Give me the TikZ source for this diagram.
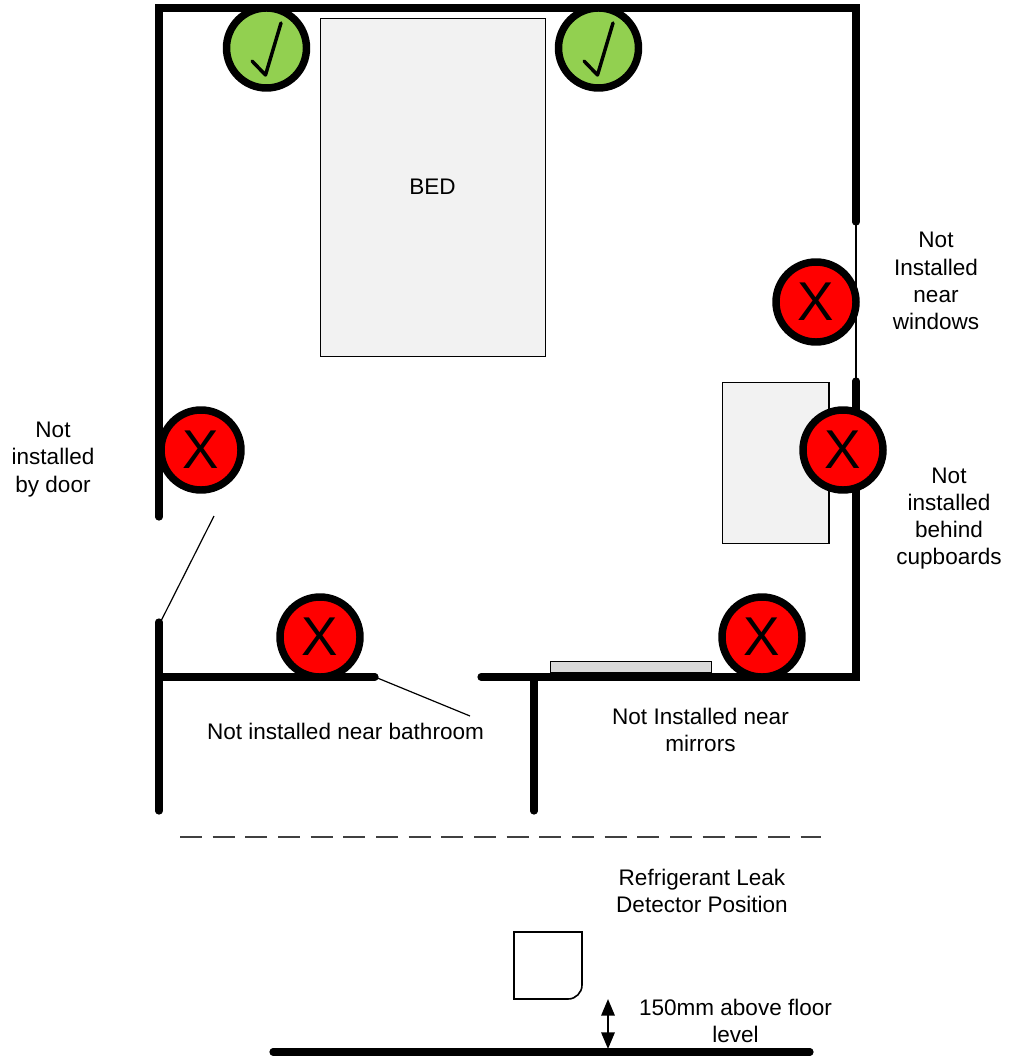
\documentclass[tikz,border=0pt]{standalone}
\usepackage{fontspec}
\setmainfont{Liberation Sans}
\usetikzlibrary{arrows.meta}
\definecolor{okgreen}{HTML}{92D050}
\definecolor{furnfill}{HTML}{F2F2F2}
\definecolor{mirrorfill}{HTML}{D9D9D9}
\tikzset{
  x=0.75pt,y=-0.75pt,
  wall/.style={line width=5.4pt,line cap=round},
  thinline/.style={line width=0.9pt},
  furn/.style={draw=black,line width=0.9pt,fill=furnfill,inner sep=0pt,anchor=north west},
  lbl/.style={font=\fontsize{16.9}{20.4}\selectfont,align=center,inner sep=0pt},
  okmark/.style={circle,draw=black,line width=5.6pt,fill=okgreen,minimum size=60pt,inner sep=0pt},
  badmark/.style={circle,draw=black,line width=5.6pt,fill=red,minimum size=60pt,inner sep=0pt,font=\fontsize{41}{41}\selectfont},
}
\begin{document}
\begin{tikzpicture}
\useasboundingbox (0,0) rectangle (1009,1056);
% corners and wall ends
\coordinate (tl) at (159,8);
\coordinate (tr) at (856,8);
\coordinate (winTop) at (856,222);
\coordinate (winBot) at (856,381);
\coordinate (br) at (856,677);
\coordinate (doorL) at (159,517);
\coordinate (doorLow) at (159,622);
\coordinate (leftEnd) at (159,811);
\coordinate (leftJ) at (159,677);
\coordinate (bathL) at (375,677);
\coordinate (bathR) at (481,677);
\coordinate (innerT) at (534,677);
\coordinate (innerB) at (534,811);
\coordinate (doorTip) at (214,516);
\coordinate (doorHinge) at (161,621);
\coordinate (bathTip) at (470,716);
\coordinate (dashL) at (180,837);
\coordinate (dashR) at (821,837);
\coordinate (floorL) at (273,1052);
\coordinate (floorR) at (810,1052);
\coordinate (arrowTop) at (608,999);
\coordinate (arrowBot) at (608,1049);
% furniture
\node[furn,minimum width=168.6pt,minimum height=253.5pt] (bed) at (319.7,18) {};
\node[lbl] (bedtext) at (432.5,186.5) {BED};
\node[furn,minimum width=80pt,minimum height=120.75pt] (cupboard) at (721.8,382) {};
\node[furn,fill=mirrorfill,minimum width=120.5pt,minimum height=8.25pt] (mirror) at (550,661) {};
% walls
\draw[wall] (doorL) -- (tl) -- (tr) -- (winTop);
\draw[thinline] (winTop) -- (winBot);
\draw[wall] (winBot) -- (br) -- (bathR);
\draw[wall] (doorLow) -- (leftEnd);
\draw[wall] (leftJ) -- (bathL);
\draw[wall] (innerT) -- (innerB);
\draw[thinline] (doorTip) -- (doorHinge);
\draw[thinline] (bathL) -- (bathTip);
\draw[line width=1pt,draw=black!75,dash pattern=on 16.4pt off 8.1pt] (dashL) -- (dashR);
\draw[wall] (floorL) -- (floorR);
% detector
\draw[line width=1.2pt,fill=white] (514,932) -- (582,932) -- (582,985) arc[start angle=0,end angle=90,radius=14] -- (514,999) -- cycle;
% height arrow
\draw[line width=1.7pt,{Triangle[length=12.5pt,width=10pt]}-{Triangle[length=12.5pt,width=10pt]}] (arrowTop) -- (arrowBot);
% marks
\node[okmark] (ok1) at (266.5,48) {};
\node[okmark] (ok2) at (598.5,48) {};
\foreach \c in {ok1,ok2}
  \draw[line width=2.6pt,line join=round,line cap=round] ([shift={(-14.5,13)}]\c.center) -- ([shift={(-1,27)}]\c.center) -- ([shift={(14.5,-25)}]\c.center);
\node[badmark] (x1) at (816,302) {X};
\node[badmark] (x2) at (843,450) {X};
\node[badmark] (x3) at (201,450) {X};
\node[badmark] (x4) at (320,637) {X};
\node[badmark] (x5) at (762,637) {X};
% labels
\node[lbl] (l1) at (936,281) {Not\\Installed\\near\\windows};
\node[lbl] (l2) at (949,518.5) {Not\\installed\\behind\\cupboards};
\node[lbl] (l3) at (53,459.5) {Not\\installed\\by door};
\node[lbl] (l4) at (345.5,731) {Not installed near bathroom};
\node[lbl] (l5) at (700.5,730) {Not Installed near\\mirrors};
\node[lbl] (l6) at (702,891) {Refrigerant Leak\\Detector Position};
\node[lbl] (l7) at (735.5,1021) {150mm above floor\\level};
\end{tikzpicture}
\end{document}
